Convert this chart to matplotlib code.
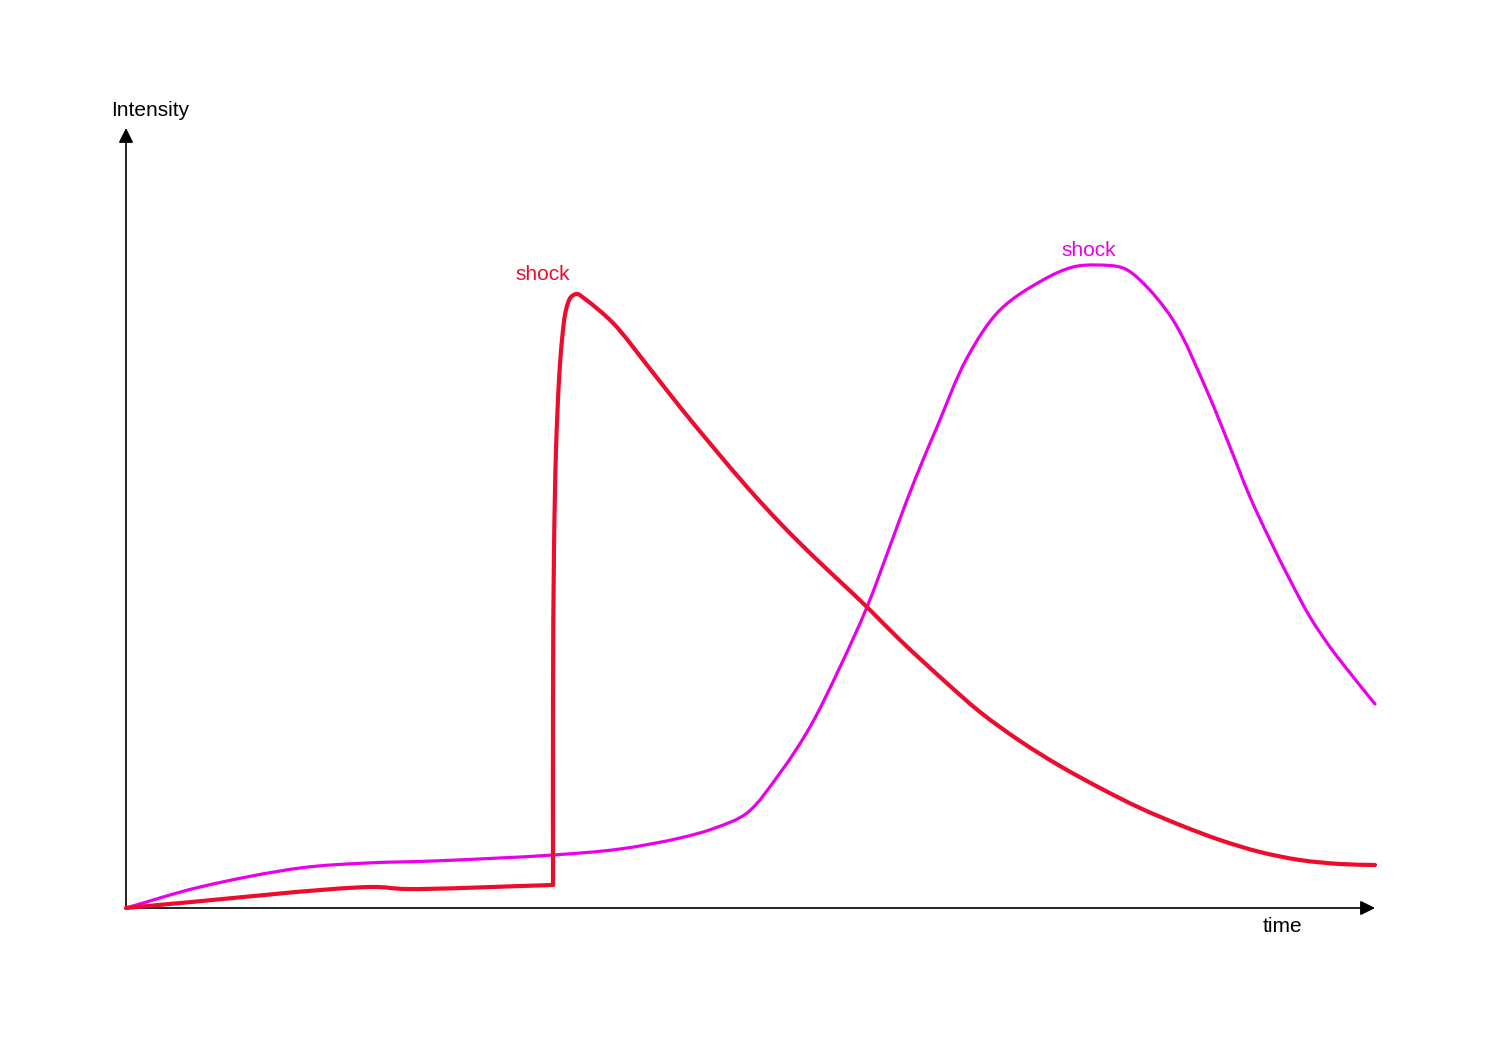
import numpy as np
import matplotlib
matplotlib.use('Agg')
import matplotlib.pyplot as plt
from matplotlib.path import Path
from matplotlib.patches import PathPatch

plt.rcParams['font.family'] = ['Liberation Sans', 'DejaVu Sans']

# curves (time, intensity), axis spans 0..1249 x 0..780
red_t = [0, 245, 280, 427, 427, 427, 428, 430, 433, 436, 440, 445, 451, 459, 487,
         521, 554, 587, 621, 654, 687, 721, 744, 774, 814, 854, 894, 934, 974,
         1014, 1054, 1094, 1134, 1174, 1214, 1249]
red_i = [0, 21, 19, 23, 38, 208, 358, 458, 528, 568, 598, 611, 614, 609, 585,
         543, 501, 461, 421, 385, 352, 320, 298, 268, 231, 196, 167, 142, 120,
         100, 83, 68, 56, 48, 44, 43]
red_corner = 3  # sharp jump starts here

mag_t = [0, 74, 174, 241, 307, 427, 494, 554, 589, 621, 654, 684, 714, 741, 764,
         781, 797, 811, 841, 874, 917, 947, 971, 997, 1014, 1047, 1081, 1104,
         1124, 1144, 1164, 1184, 1204, 1224, 1249]
mag_i = [0, 21, 40, 45, 47, 53, 59, 70, 80, 95, 135, 181, 241, 301, 362,
         408, 448, 481, 550, 598, 628, 641, 643, 640, 628, 588, 517, 461,
         411, 368, 328, 291, 261, 235, 204]

t_max = 1249
i_max = 780

red = '#ec0c2e'
magenta = '#e900e9'


def smooth_path(x, y, alpha=0.5):
    # centripetal catmull-rom through the read points, as cubic beziers
    p = np.column_stack([x, y]).astype(float)
    ext = np.vstack([p[0], p, p[-1]])
    verts = [p[0]]
    codes = [Path.MOVETO]
    for k in range(1, len(ext) - 2):
        p0, p1, p2, p3 = ext[k - 1], ext[k], ext[k + 1], ext[k + 2]
        d1 = np.linalg.norm(p1 - p0) ** alpha
        d2 = np.linalg.norm(p2 - p1) ** alpha
        d3 = np.linalg.norm(p3 - p2) ** alpha
        if d1 < 1e-9:
            b1 = p1 + (p2 - p1) / 3.0
        else:
            b1 = (d1**2 * p2 - d2**2 * p0 + (2*d1**2 + 3*d1*d2 + d2**2) * p1) / (3*d1*(d1 + d2))
        if d3 < 1e-9:
            b2 = p2 - (p2 - p1) / 3.0
        else:
            b2 = (d3**2 * p1 - d2**2 * p3 + (2*d3**2 + 3*d3*d2 + d2**2) * p2) / (3*d3*(d3 + d2))
        verts += [b1, b2, p2]
        codes += [Path.CURVE4] * 3
    return Path(verts, codes)


fig = plt.figure(figsize=(15, 10.6), dpi=100)
ax = fig.add_axes([126/1500, 152/1060, 1249/1500, 780/1060])
ax.set_xlim(0, t_max)
ax.set_ylim(0, i_max)
ax.axis('off')

# axes with arrow heads
arrow = dict(arrowstyle='-|>', mutation_scale=22, lw=1.2, color='black',
             shrinkA=0, shrinkB=0)
ax.annotate('', xy=(t_max, 0), xytext=(0, 0), arrowprops=arrow, annotation_clip=False)
ax.annotate('', xy=(0, i_max), xytext=(0, 0), arrowprops=arrow, annotation_clip=False)

ax.add_patch(PathPatch(smooth_path(mag_t, mag_i), fill=False, edgecolor=magenta,
                       lw=2.3, capstyle='round', joinstyle='round',
                       clip_on=False, zorder=3))
ax.add_patch(PathPatch(smooth_path(red_t[:red_corner + 1], red_i[:red_corner + 1]),
                       fill=False, edgecolor=red, lw=3.0, capstyle='round',
                       joinstyle='round', clip_on=False, zorder=4))
ax.add_patch(PathPatch(smooth_path(red_t[red_corner:], red_i[red_corner:]),
                       fill=False, edgecolor=red, lw=3.0, capstyle='round',
                       joinstyle='round', clip_on=False, zorder=4))

ax.text(24, 798, 'Intensity', fontsize=15, ha='center', va='center')
ax.text(1156, -19, 'time', fontsize=15, ha='center', va='center')
ax.text(417, 634, 'shock', fontsize=15, color=red, ha='center', va='center')
ax.text(963, 658, 'shock', fontsize=15, color=magenta, ha='center', va='center')

plt.savefig('out.png', dpi=100)
